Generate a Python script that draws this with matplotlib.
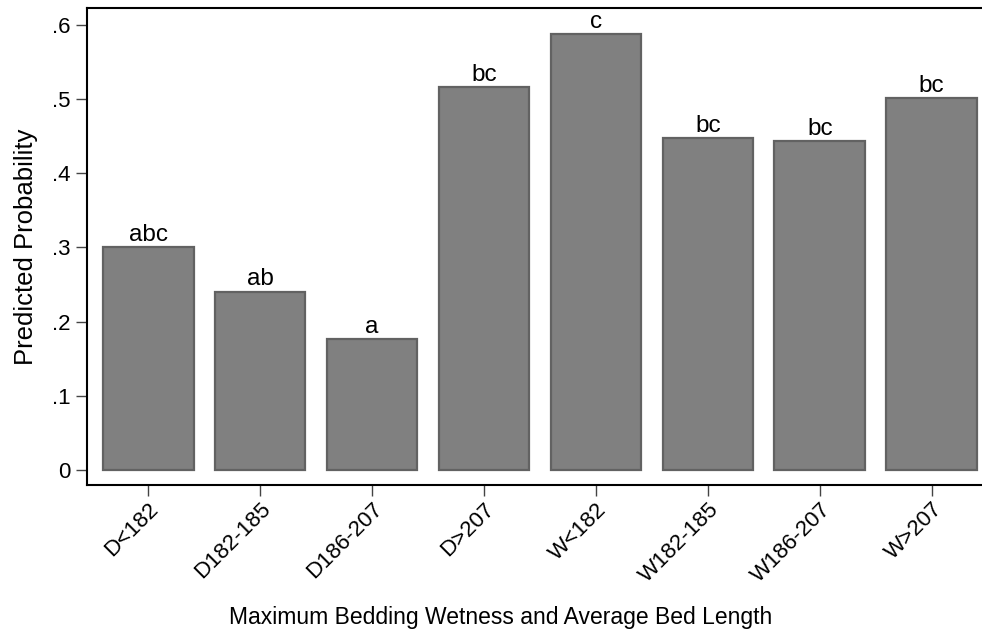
import matplotlib
matplotlib.use("Agg")
import matplotlib.pyplot as plt

categories = ["D<182", "D182-185", "D186-207", "D>207",
              "W<182", "W182-185", "W186-207", "W>207"]
probabilities = [0.300, 0.240, 0.176, 0.516, 0.587, 0.447, 0.443, 0.501]
groups = ["abc", "ab", "a", "bc", "c", "bc", "bc", "bc"]
yticks = [0, 0.1, 0.2, 0.3, 0.4, 0.5, 0.6]
ytick_labels = ["0", ".1", ".2", ".3", ".4", ".5", ".6"]

plt.rcParams["font.family"] = ["Liberation Sans", "DejaVu Sans"]
plt.rcParams["font.size"] = 16

fig = plt.figure(figsize=(9.82, 6.32), dpi=100)
ax = fig.add_axes([87 / 982, (632 - 485) / 632, 895 / 982, (485 - 8) / 632])

x = list(range(len(categories)))
ax.bar(x, probabilities, width=0.81, color="#808080",
       edgecolor="#626262", linewidth=1.6)

for xi, val, g in zip(x, probabilities, groups):
    ax.annotate(g, (xi, val), xytext=(0, 1.0), textcoords="offset points",
                ha="center", va="bottom", fontsize=17.5)

ax.set_xlim(-0.547, 7.449)
ax.set_ylim(-0.0202, 0.6225)
ax.set_yticks(yticks)
ax.set_yticklabels(ytick_labels)
ax.set_xticks(x)
ax.set_xticklabels(categories, rotation=45, ha="right", rotation_mode="anchor")

ax.tick_params(axis="both", length=8, width=1, color="#444444", labelsize=16)
ax.tick_params(axis="y", pad=4)
ax.tick_params(axis="x", pad=2)

for side in ["left", "bottom", "top"]:
    ax.spines[side].set_linewidth(1.5)
    ax.spines[side].set_color("black")
ax.spines["right"].set_visible(False)

ax.set_ylabel("Predicted Probability", fontsize=18.5, labelpad=10)
fig.text(501 / 982, 1 - 624 / 632, "Maximum Bedding Wetness and Average Bed Length",
         ha="center", va="baseline", fontsize=16.5)

fig.savefig("out.png", dpi=100, facecolor="white")
